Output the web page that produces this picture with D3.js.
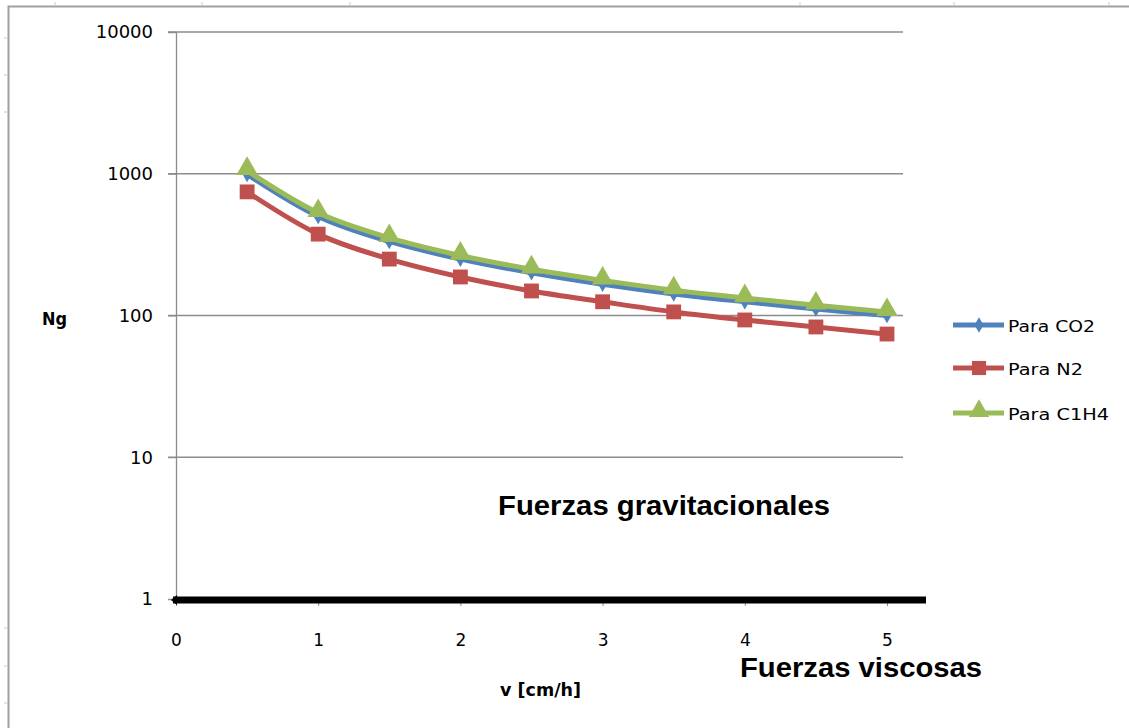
<!DOCTYPE html>
<html><head><meta charset="utf-8">
<script src="https://cdn.jsdelivr.net/npm/d3@7"></script>
<style>body{margin:0;background:#fff}svg{display:block}</style>
</head><body>
<svg id="c" width="1129" height="728"></svg>
<script>
const vValues = [0.5,1,1.5,2,2.5,3,3.5,4,4.5,5];
const co2 = [990,500,333,250,200,166,142,125,111,100];
const n2 = [745,375,250,187,149,125,106,93,83,74];
const c1h4 = [1050,530,353,265,212,177,151,133,118,106];
const seriesNames = ["Para CO2","Para N2","Para C1H4"];
const yTicks = [1,10,100,1000,10000];
const xTicks = [0,1,2,3,4,5];

const svg = d3.select("#c");
const font = "'DejaVu Sans', Verdana, sans-serif";
const bfont = "'Liberation Sans', Arial, sans-serif";
svg.append("path").attr("d","M8.5,740V6.5H1140").attr("fill","none").attr("stroke","#a0a0a0").attr("stroke-width",2);
[55,202,350,800,954,1109].forEach(x=>svg.append("line").attr("x1",x).attr("x2",x).attr("y1",2).attr("y2",6).attr("stroke","#c8c8e0"));
[38,75,112,628,666,703].forEach(y=>svg.append("line").attr("x1",4).attr("x2",8).attr("y1",y).attr("y2",y).attr("stroke","#c8c8e0"));

const x = d3.scaleLinear().domain([0,5]).range([176,887]);
const y = d3.scaleLog().domain([1,10000]).range([599,32]);

svg.append("g").selectAll("line").data(yTicks.filter(d=>d>1)).join("line")
 .attr("x1",168).attr("x2",903).attr("y1",d=>y(d)).attr("y2",d=>y(d))
 .attr("stroke","#8c8c8c").attr("stroke-width",1.3);
const ya = d3.axisLeft(y).tickValues(yTicks).tickFormat(d3.format("d")).tickSize(8).tickPadding(15);
svg.append("g").attr("transform","translate(176,0)").call(ya)
 .call(s=>s.select(".domain").attr("stroke","#8c8c8c").attr("stroke-width",1.3))
 .call(s=>s.selectAll(".tick line").attr("stroke","#8c8c8c"))
 .call(s=>s.selectAll("text").attr("font-family",font).attr("font-size",18).attr("fill","#000"));
const xa = d3.axisBottom(x).tickValues(xTicks).tickFormat(d3.format("d")).tickSize(6).tickPadding(28);
svg.append("g").attr("transform","translate(0,600)").call(xa)
 .call(s=>s.select(".domain").remove())
 .call(s=>s.selectAll(".tick line").attr("stroke","#8c8c8c"))
 .call(s=>s.selectAll("text").attr("font-family",font).attr("font-size",17).attr("fill","#000"));
svg.append("line").attr("x1",x(0)-3).attr("x2",926).attr("y1",600).attr("y2",600).attr("stroke","#000").attr("stroke-width",7);
svg.append("path").attr("d",`M${x(0)-5},600l6,-5v10z`).attr("fill","#000");

const colors = ["#4F81BD","#C0504D","#9BBB59"];
const data = [co2,n2,c1h4];
const line = d3.line().x((d,i)=>x(vValues[i])).y(d=>y(d)).curve(d3.curveMonotoneX);
const symbols = [d3.symbol().type(d3.symbolDiamond).size(70), d3.symbol().type(d3.symbolSquare).size(220), d3.symbol().type(d3.symbolTriangle).size(200)];
[0,1,2].forEach(k=>{
  svg.append("path").datum(data[k]).attr("d",line).attr("fill","none").attr("stroke",colors[k]).attr("stroke-width",5);
  svg.append("g").selectAll("path").data(data[k]).join("path")
    .attr("d",symbols[k]).attr("transform",(d,i)=>`translate(${x(vValues[i])},${y(d)-(k==2?2:0)})`).attr("fill",colors[k]);
});

const ly = [325,368,413];
const lw = [87,75,101];
seriesNames.forEach((n,k)=>{
  svg.append("line").attr("x1",953).attr("x2",1004).attr("y1",ly[k]).attr("y2",ly[k]).attr("stroke",colors[k]).attr("stroke-width",5);
  const s=[d3.symbol().type(d3.symbolDiamond).size(70), d3.symbol().type(d3.symbolSquare).size(200), d3.symbol().type(d3.symbolTriangle).size(180)][k];
  svg.append("path").attr("d",s).attr("transform",`translate(979,${ly[k]-(k==2?2:0)})`).attr("fill",colors[k]);
  svg.append("text").attr("x",1008).attr("y",ly[k]+7).text(n).attr("font-family",font).attr("font-size",15)
    .attr("textLength",lw[k]).attr("lengthAdjust","spacingAndGlyphs").attr("fill","#000");
});

function label(t,x0,yb,size,w,f){
  svg.append("text").attr("x",x0).attr("y",yb).text(t).attr("font-family",f).attr("font-size",size).attr("font-weight","bold")
   .attr("textLength",w).attr("lengthAdjust","spacingAndGlyphs");
}
label("Ng",42,325,18,25,font);
label("Fuerzas gravitacionales",498,515,27,332,bfont);
label("Fuerzas viscosas",740,677,27,242,bfont);
label("v [cm/h]",500,696,18,81,font);
</script>
</body></html>
